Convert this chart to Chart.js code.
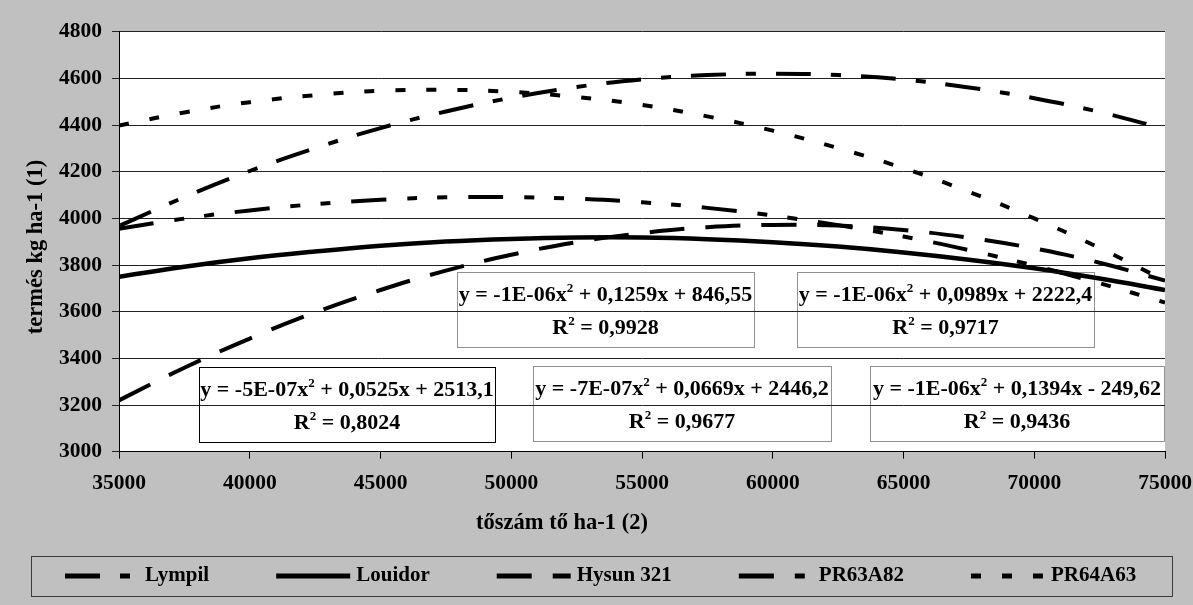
<!DOCTYPE html>
<html>
<head>
<meta charset="utf-8">
<script src="https://cdn.jsdelivr.net/npm/chart.js@4.4.1/dist/chart.umd.min.js"></script>
<style>
  html, body { margin: 0; padding: 0; background: #c0c0c0; }
  canvas { display: block; }
</style>
</head>
<body>
<canvas id="chart" width="1193" height="605"></canvas>
<script>
// Plant density (plants per hectare) and yield (kg per hectare) per hybrid
const density   = [35000, 37500, 40000, 42500, 45000, 47500, 50000, 52500, 55000, 57500, 60000, 62500, 65000, 67500, 70000, 72500, 75000];
const lympil    = [3967, 4091, 4203, 4301, 4387, 4458, 4517, 4563, 4596, 4614, 4620, 4614, 4595, 4561, 4515, 4456, 4383];
const louidor   = [3750, 3793, 3829, 3858, 3883, 3901, 3912, 3918, 3918, 3911, 3898, 3879, 3854, 3823, 3786, 3742, 3693];
const hysun321  = [3220, 3360, 3485, 3597, 3693, 3776, 3844, 3898, 3937, 3962, 3972, 3969, 3950, 3917, 3871, 3810, 3733];
const pr63a82   = [3955, 3999, 4034, 4061, 4080, 4090, 4091, 4084, 4069, 4045, 4012, 3971, 3922, 3864, 3797, 3722, 3639];
const pr64a63   = [4398, 4454, 4498, 4528, 4547, 4551, 4542, 4520, 4486, 4437, 4376, 4301, 4215, 4114, 4000, 3873, 3733];

const seriesNames = ['Lympil', 'Louidor', 'Hysun 321', 'PR63A82', 'PR64A63'];
const seriesValues = [lympil, louidor, hysun321, pr63a82, pr64a63];

// Quadratic trendline labels: [before exponent, after exponent] and R²
const trendEquations = [
  ['y = -1E-06x', ' + 0,1259x + 846,55'],
  ['y = -5E-07x', ' + 0,0525x + 2513,1'],
  ['y = -1E-06x', ' + 0,1394x - 249,62'],
  ['y = -7E-07x', ' + 0,0669x + 2446,2'],
  ['y = -1E-06x', ' + 0,0989x + 2222,4']
];
const trendR2 = ['0,9928', '0,8024', '0,9436', '0,9677', '0,9717'];

const yAxisTitle = 'termés kg ha-1 (1)';
const xAxisTitle = 'tőszám tő ha-1 (2)';

const FAMILY = '"Liberation Serif", "Times New Roman", serif';
const FONT_SIZE = 21.5;
const boldFont = (s) => `bold ${s}px ${FAMILY}`;

// Line appearance per series
const lineStyles = [
  { dash: [35, 20, 10, 20], width: 4 },
  { dash: [], width: 4.5 },
  { dash: [35, 21], width: 4 },
  { dash: [35, 21, 10, 20, 10, 21], width: 4 },
  { dash: [10, 21], width: 4 }
];

// Where each equation box sits (pixels) and its border style
const labelBoxes = [
  { left: 457, top: 272, width: 297, height: 75, dotted: true },
  { left: 199, top: 367, width: 296, height: 75, dotted: false },
  { left: 870, top: 366, width: 294, height: 75, dotted: true },
  { left: 533, top: 366, width: 298, height: 75, dotted: true },
  { left: 797, top: 272, width: 297, height: 75, dotted: true }
];

const datasets = seriesNames.map((name, i) => ({
  label: name,
  data: density.map((x, j) => ({ x: x, y: seriesValues[i][j] })),
  borderColor: '#000000',
  backgroundColor: '#000000',
  borderWidth: lineStyles[i].width,
  borderDash: lineStyles[i].dash,
  borderCapStyle: 'butt',
  pointRadius: 0,
  tension: 0.4,
  fill: false
}));

function drawRich(ctx, parts, cx, baseline) {
  let total = 0;
  const widths = parts.map(p => {
    ctx.font = p.sup ? boldFont(13) : boldFont(FONT_SIZE + 0.5);
    const w = ctx.measureText(p.text).width;
    total += w;
    return w;
  });
  let x = cx - total / 2;
  parts.forEach((p, k) => {
    ctx.font = p.sup ? boldFont(13) : boldFont(FONT_SIZE + 0.5);
    ctx.fillText(p.text, x, p.sup ? baseline - 9 : baseline);
    x += widths[k];
  });
}

const decorPlugin = {
  id: 'decor',
  beforeDraw(chart) {
    const { ctx, chartArea: a } = chart;
    ctx.save();
    ctx.fillStyle = '#c0c0c0';
    ctx.fillRect(0, 0, chart.width, chart.height);
    ctx.fillStyle = '#ffffff';
    ctx.fillRect(a.left, a.top, a.right - a.left, a.bottom - a.top);
    ctx.restore();
  },
  afterDraw(chart) {
    const { ctx } = chart;
    ctx.save();
    ctx.fillStyle = '#000000';
    ctx.textBaseline = 'alphabetic';
    ctx.textAlign = 'left';

    // equation boxes
    labelBoxes.forEach((b, i) => {
      ctx.save();
      ctx.strokeStyle = b.dotted ? '#222222' : '#000000';
      ctx.lineWidth = 1;
      ctx.setLineDash(b.dotted ? [1, 1] : []);
      ctx.strokeRect(b.left + 0.5, b.top + 0.5, b.width, b.height);
      ctx.restore();
      const cx = b.left + b.width / 2;
      drawRich(ctx, [
        { text: trendEquations[i][0] }, { text: '2', sup: true }, { text: trendEquations[i][1] }
      ], cx, b.top + 29);
      drawRich(ctx, [
        { text: 'R' }, { text: '2', sup: true }, { text: ' = ' + trendR2[i] }
      ], cx, b.top + 62);
    });

    // axis titles
    ctx.font = boldFont(22.5);
    ctx.textAlign = 'center';
    ctx.textBaseline = 'middle';
    ctx.fillText(xAxisTitle, 562, 523);
    ctx.save();
    ctx.translate(36, 247);
    ctx.rotate(-Math.PI / 2);
    ctx.fillText(yAxisTitle, 0, 0);
    ctx.restore();

    // legend
    const lg = { left: 31, top: 556, right: 1172, bottom: 596 };
    ctx.strokeStyle = '#3a3a3a';
    ctx.lineWidth = 1;
    ctx.strokeRect(lg.left + 0.5, lg.top + 0.5, lg.right - lg.left, lg.bottom - lg.top);
    const cy = (lg.top + lg.bottom) / 2;
    let x = 65;
    const sampleLen = 74;
    chart.data.datasets.forEach((ds) => {
      ctx.save();
      ctx.strokeStyle = '#000000';
      ctx.lineWidth = 5;
      ctx.lineCap = 'butt';
      ctx.setLineDash(ds.borderDash || []);
      ctx.beginPath();
      ctx.moveTo(x, cy);
      ctx.lineTo(x + sampleLen, cy);
      ctx.stroke();
      ctx.restore();
      ctx.font = boldFont(FONT_SIZE - 0.5);
      ctx.textAlign = 'left';
      ctx.textBaseline = 'middle';
      ctx.fillText(ds.label, x + 80, cy);
      x += 80 + ctx.measureText(ds.label).width + 67;
    });
    ctx.restore();
  }
};

new Chart(document.getElementById('chart'), {
  type: 'line',
  data: { datasets: datasets },
  options: {
    responsive: false,
    animation: false,
    devicePixelRatio: 1,
    layout: { padding: { top: 31.7, right: 28, left: 0, bottom: 0 } },
    plugins: { legend: { display: false }, tooltip: { enabled: false } },
    scales: {
      x: {
        type: 'linear',
        min: 35000,
        max: 75000,
        afterFit(scale) {
          scale.height = 605 - 451.7;
          scale.paddingLeft = 0;
          scale.paddingRight = 0;
        },
        ticks: {
          stepSize: 5000,
          color: '#000000',
          font: { family: FAMILY, size: FONT_SIZE, weight: 'bold' },
          padding: 12,
          maxRotation: 0,
          callback: (v) => String(v)
        },
        grid: { drawOnChartArea: false, drawTicks: true, tickLength: 7, color: '#000000', lineWidth: 1 },
        border: { display: true, color: '#000000', width: 1 }
      },
      y: {
        min: 3000,
        max: 4800,
        afterFit(scale) { scale.width = 119; },
        ticks: {
          stepSize: 200,
          color: '#000000',
          font: { family: FAMILY, size: FONT_SIZE, weight: 'bold' },
          padding: 10,
          callback: (v) => String(v)
        },
        grid: { color: '#222222', lineWidth: 1, tickLength: 7, drawTicks: true },
        border: { display: true, color: '#000000', width: 1 }
      }
    }
  },
  plugins: [decorPlugin]
});
</script>
</body>
</html>
